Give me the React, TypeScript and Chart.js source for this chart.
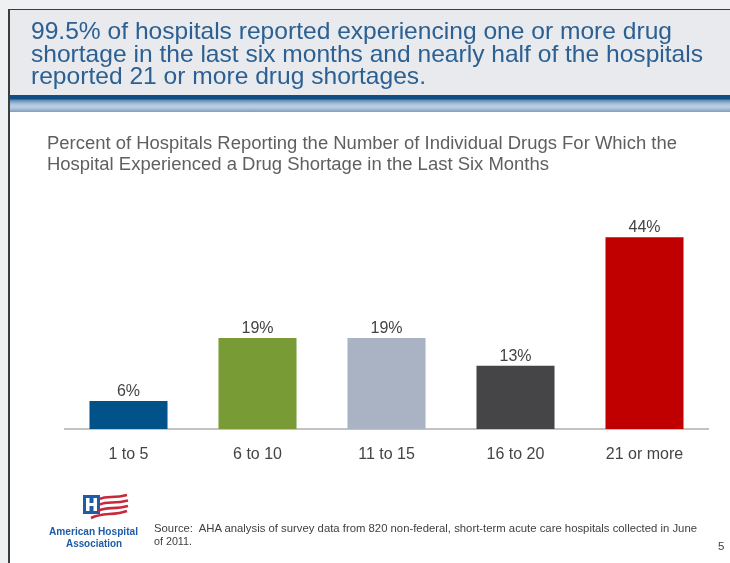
import React, { useEffect, useRef } from "react";
import { Chart, registerables } from "chart.js";

Chart.register(...registerables);

// ---- data ----
const categories = ["1 to 5", "6 to 10", "11 to 15", "16 to 20", "21 or more"];
const values = [6.4, 20.9, 20.9, 14.5, 44];
const valueLabels = ["6%", "19%", "19%", "13%", "44%"];
const barColors = ["#02528a", "#799b36", "#aab3c3", "#454547", "#c00000"];
const yMax = 50;

const titleLines = [
  "99.5% of hospitals reported experiencing one or more drug",
  "shortage in the last six months and nearly half of the hospitals",
  "reported 21 or more drug shortages.",
];
const subtitleLines = [
  "Percent of Hospitals Reporting the Number of Individual Drugs For Which the",
  "Hospital Experienced a Drug Shortage in the Last Six Months",
];
const sourceLines = [
  "Source:  AHA analysis of survey data from 820 non-federal, short-term acute care hospitals collected in June",
  "of 2011.",
];
const logoLines = ["American Hospital", "Association"];
const pageNumber = "5";

const FONT = "'Liberation Sans', Arial, Helvetica, sans-serif";

const valueLabelPlugin = {
  id: "valueLabels",
  afterDatasetsDraw(chart: any) {
    const ctx = chart.ctx;
    const meta = chart.getDatasetMeta(0);
    ctx.save();
    ctx.font = `16px ${FONT}`;
    ctx.fillStyle = "#444444";
    ctx.textAlign = "center";
    ctx.textBaseline = "alphabetic";
    meta.data.forEach((bar: any, i: number) => {
      ctx.fillText(valueLabels[i], bar.x, bar.y - 5);
    });
    ctx.restore();
  },
};

function BarChart() {
  const ref = useRef<HTMLCanvasElement | null>(null);
  useEffect(() => {
    if (!ref.current) return;
    const chart = new Chart(ref.current, {
      type: "bar",
      data: {
        labels: categories,
        datasets: [
          {
            data: values,
            backgroundColor: barColors,
            borderWidth: 0,
            barPercentage: 0.605,
            categoryPercentage: 1.0,
          },
        ],
      },
      options: {
        responsive: false,
        animation: false,
        devicePixelRatio: 1,
        layout: { padding: 0 },
        plugins: {
          legend: { display: false },
          tooltip: { enabled: false },
          title: { display: false },
        },
        scales: {
          x: {
            grid: { display: false, drawTicks: false },
            border: { display: true, color: "#c3c3c3", width: 2 },
            ticks: {
              color: "#444444",
              font: { family: FONT, size: 16 },
              padding: 16,
              maxRotation: 0,
              autoSkip: false,
            },
            afterFit: (scale: any) => {
              scale.height = 51;
            },
          },
          y: {
            display: false,
            min: 0,
            max: yMax,
          },
        },
      },
      plugins: [valueLabelPlugin],
    });
    return () => chart.destroy();
  }, []);
  return (
    <canvas
      ref={ref}
      width={645}
      height={269}
      style={{ position: "absolute", left: 64, top: 211, width: 645, height: 269 }}
    />
  );
}

function Logo() {
  return (
    <svg
      width={60}
      height={32}
      viewBox="0 0 60 32"
      style={{ position: "absolute", left: 80, top: 492 }}
    >
      <rect x={3} y={3} width={17} height={19} fill="#1f5ca8" />
      <rect x={6} y={6} width={3.5} height={13} fill="#fff" />
      <rect x={13.5} y={6} width={3.5} height={13} fill="#fff" />
      <rect x={6} y={11} width={11} height={3} fill="#fff" />
      <path d="M20 7 C 27 3, 33 7, 47 3" stroke="#c8283a" strokeWidth={2.6} fill="none" />
      <path d="M20 12.5 C 28 8.5, 34 12.5, 48 8.5" stroke="#c8283a" strokeWidth={2.6} fill="none" />
      <path d="M18 19 C 27 14, 34 18, 48 14" stroke="#c8283a" strokeWidth={2.6} fill="none" />
      <path d="M11 26 C 23 20, 33 24, 47 19" stroke="#c8283a" strokeWidth={2.6} fill="none" />
    </svg>
  );
}

export default function App() {
  return (
    <div
      style={{
        position: "absolute",
        left: 0,
        top: 0,
        width: 730,
        height: 563,
        overflow: "hidden",
        background: "#eef0f2",
        fontFamily: FONT,
      }}
    >
      {/* slide frame */}
      <div
        style={{
          position: "absolute",
          left: 8,
          top: 9,
          width: 730,
          height: 560,
          background: "#ffffff",
          borderLeft: "2px solid #3c3c3c",
          borderTop: "1px solid #3c3c3c",
        }}
      />
      {/* header */}
      <div
        style={{
          position: "absolute",
          left: 10,
          top: 10,
          width: 720,
          height: 85,
          background: "#e8eaed",
        }}
      />
      <div
        style={{
          position: "absolute",
          left: 10,
          top: 95,
          width: 720,
          height: 17,
          background:
            "linear-gradient(to bottom, #114e84 0px, #114e84 4px, #5d8ab6 5px, #a9c2da 9px, #bcd0e3 12px, #9ab4cd 15px, #7f9bb9 17px)",
        }}
      />
      <BarChart />
      <Logo />
      <svg
        width={730}
        height={563}
        style={{ position: "absolute", left: 0, top: 0, pointerEvents: "none", whiteSpace: "pre" }}
      >
        <g fill="#2c6092" fontSize={24} fontFamily={FONT}>
          <text x={31} y={38.5} textLength={641} lengthAdjust="spacingAndGlyphs">
            {titleLines[0]}
          </text>
          <text x={31} y={61.5} textLength={672} lengthAdjust="spacingAndGlyphs">
            {titleLines[1]}
          </text>
          <text x={31} y={84} textLength={395} lengthAdjust="spacingAndGlyphs">
            {titleLines[2]}
          </text>
        </g>
        <g fill="#5f5f5f" fontSize={17.5} fontFamily={FONT}>
          <text x={47} y={148.5} textLength={630} lengthAdjust="spacingAndGlyphs">
            {subtitleLines[0]}
          </text>
          <text x={47} y={169.5} textLength={502} lengthAdjust="spacingAndGlyphs">
            {subtitleLines[1]}
          </text>
        </g>
        <g fill="#1f5ca8" fontSize={10.5} fontWeight="bold" fontFamily={FONT}>
          <text x={49} y={535} textLength={89} lengthAdjust="spacingAndGlyphs">
            {logoLines[0]}
          </text>
          <text x={66} y={546.5} textLength={56} lengthAdjust="spacingAndGlyphs">
            {logoLines[1]}
          </text>
        </g>
        <g fill="#404040" fontSize={11.5} fontFamily={FONT}>
          <text x={154} y={531.5} textLength={543} lengthAdjust="spacingAndGlyphs" xmlSpace="preserve">
            {sourceLines[0]}
          </text>
          <text x={154} y={545} textLength={38} lengthAdjust="spacingAndGlyphs">
            {sourceLines[1]}
          </text>
          <text x={718} y={550} fontSize={11.5}>
            {pageNumber}
          </text>
        </g>
      </svg>
    </div>
  );
}
